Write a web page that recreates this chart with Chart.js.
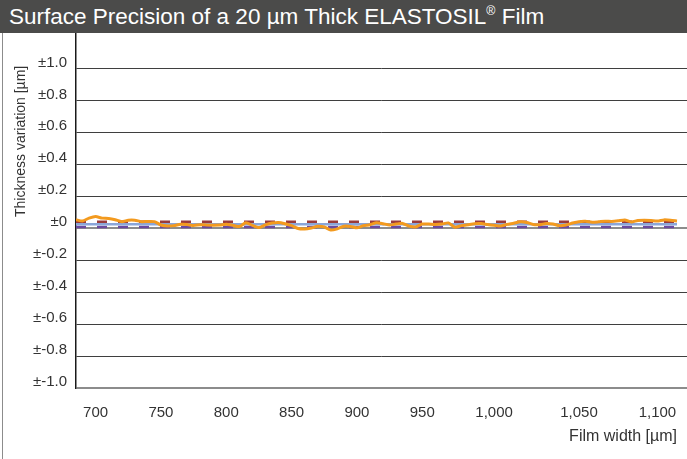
<!DOCTYPE html>
<html>
<head>
<meta charset="utf-8">
<script src="https://cdn.jsdelivr.net/npm/chart.js@4"></script>
<style>
  html, body { margin: 0; padding: 0; background: #fff; }
  #wrap { position: relative; width: 687px; height: 459px; overflow: hidden; font-family: "Liberation Sans", Arial, sans-serif; }
  #title { height: 33px; background: #4b4b4a; color: #fff; font-size: 22.5px; line-height: 33px; padding-left: 9px; white-space: nowrap; }
  #title sup { font-size: 55%; line-height: 0; vertical-align: 0.75em; }
  #frame { position: absolute; left: 2px; top: 33px; width: 1px; height: 426px; background: #8c8c8c; }
  #plot { position: absolute; left: 0; top: 33px; }
</style>
</head>
<body>
<div id="wrap">
  <div id="title">Surface Precision of a 20 µm Thick ELASTOSIL<sup>®</sup> Film</div>
  <canvas id="plot" width="687" height="426"></canvas>
  <div id="frame"></div>
</div>
<script>
// Film width samples [µm] (one per measurement point)
const filmWidth = [
  685, 690, 695, 700, 705, 710, 715, 720, 725, 730, 735, 740, 745, 750, 755, 760,
  765, 770, 775, 780, 785, 790, 795, 800, 805, 810, 815, 820, 825, 830, 835, 840,
  845, 850, 855, 860, 865, 870, 875, 880, 885, 890, 895, 900, 905, 910, 915, 920,
  925, 930, 935, 940, 945, 950, 955, 959, 964, 968, 973, 977, 982, 986, 991, 995,
  1000, 1004, 1008, 1012, 1015, 1019, 1023, 1027, 1031, 1035, 1038, 1042, 1046, 1050,
  1054, 1058, 1063, 1067, 1071, 1075, 1079, 1083, 1088, 1092, 1096, 1100, 1104, 1108, 1112
];
const widthTicks = [700, 750, 800, 850, 900, 950, 1000, 1050, 1100];

// measured thickness variation [µm]
const thickness = [
  0.055, 0.047, 0.065, 0.075, 0.065, 0.063, 0.055, 0.043, 0.052, 0.052,
  0.043, 0.044, 0.043, 0.022, 0.016, 0.018, 0.026, 0.025, 0.019, 0.024,
  0.022, 0.021, 0.022, 0.027, 0.020, 0.012, 0.036, 0.020, 0.006, 0.023,
  0.034, 0.038, 0.030, 0.018, 0.000, -0.003, 0.003, 0.014, 0.010, -0.010,
  -0.002, 0.014, 0.013, 0.004, 0.018, 0.023, 0.036, 0.030, 0.022, 0.028,
  0.032, 0.015, 0.010, 0.028, 0.028, 0.025, 0.028, 0.035, 0.008, 0.018,
  0.024, 0.030, 0.031, 0.025, 0.020, 0.015, 0.026, 0.033, 0.042, 0.038,
  0.025, 0.024, 0.031, 0.028, 0.018, 0.022, 0.034, 0.043, 0.045, 0.039,
  0.042, 0.046, 0.044, 0.048, 0.054, 0.041, 0.050, 0.051, 0.050, 0.047,
  0.054, 0.052, 0.047
];

// reference levels
const upperLevel = 0.043;
const meanLevel = 0.026;
const lowerLevel = 0.01;

const yTicks = [-1, -0.8, -0.6, -0.4, -0.2, 0, 0.2, 0.4, 0.6, 0.8, 1];

const FONT = '"Liberation Sans", Arial, sans-serif';
const last = filmWidth.length - 1;

function flat(level) {
  return [{ x: 0, y: level }, { x: last, y: level }];
}

// axis titles drawn by hand so they sit where the original has them
const axisTitles = {
  id: 'axisTitles',
  afterDraw(chart) {
    const c = chart.ctx;
    const xs = chart.scales.x;
    c.save();
    c.fillStyle = '#333';
    c.font = '16px ' + FONT;
    c.textAlign = 'right';
    c.textBaseline = 'middle';
    c.fillText('Film width [µm]', xs.getPixelForValue(last), 404);
    c.font = '14px ' + FONT;
    c.translate(25, 184);
    c.rotate(-Math.PI / 2);
    c.textAlign = 'left';
    c.textBaseline = 'alphabetic';
    c.fillText('Thickness variation [µm]', 0, 0);
    c.restore();
  }
};

const strong = v => v === 0 || v === -1;

new Chart(document.getElementById('plot').getContext('2d'), {
  type: 'line',
  data: {
    datasets: [
      {
        data: thickness.map((v, i) => ({ x: i, y: v })),
        borderColor: '#f39a1e',
        borderWidth: 3,
        tension: 0.2
      },
      {
        data: flat(upperLevel),
        borderColor: '#9b3b3b',
        borderWidth: 2.5,
        borderDash: [10, 11]
      },
      {
        data: flat(meanLevel),
        borderColor: '#8aa6d9',
        borderWidth: 2.5
      },
      {
        data: flat(lowerLevel),
        borderColor: '#6b4aa0',
        borderWidth: 2.5,
        borderDash: [10, 11]
      }
    ]
  },
  options: {
    responsive: false,
    animation: false,
    layout: { padding: 0 },
    elements: { point: { radius: 0 } },
    plugins: { legend: { display: false }, tooltip: { enabled: false } },
    scales: {
      x: {
        type: 'linear',
        min: 0,
        max: 93.53,
        grid: { display: false },
        border: { display: false },
        afterBuildTicks: s => { s.ticks = widthTicks.map(w => ({ value: filmWidth.indexOf(w) })); },
        afterFit: s => { s.height = 71; s.paddingLeft = 0; s.paddingRight = 0; },
        ticks: {
          autoSkip: false,
          maxRotation: 0,
          padding: 8,
          color: '#333',
          font: { family: FONT, size: 15 },
          callback: v => filmWidth[v].toLocaleString('en-US')
        }
      },
      y: {
        min: -1,
        max: 1.2257,
        afterBuildTicks: s => { s.ticks = yTicks.map(v => ({ value: v })); },
        afterFit: s => { s.width = 76; s.paddingTop = 0; s.paddingBottom = 0; },
        grid: {
          drawTicks: false,
          color: ctx => strong(ctx.tick && ctx.tick.value) ? '#8c8c8c' : '#3f3f3f',
          lineWidth: ctx => strong(ctx.tick && ctx.tick.value) ? 2 : 1
        },
        border: { color: '#1a1a1a', width: 1.5 },
        ticks: {
          padding: 9,
          labelOffset: -6.5,
          color: '#333',
          font: { family: FONT, size: 15 },
          callback: v => v === 0 ? '±0' : '±' + v.toFixed(1)
        }
      }
    }
  },
  plugins: [axisTitles]
});
</script>
</body>
</html>
